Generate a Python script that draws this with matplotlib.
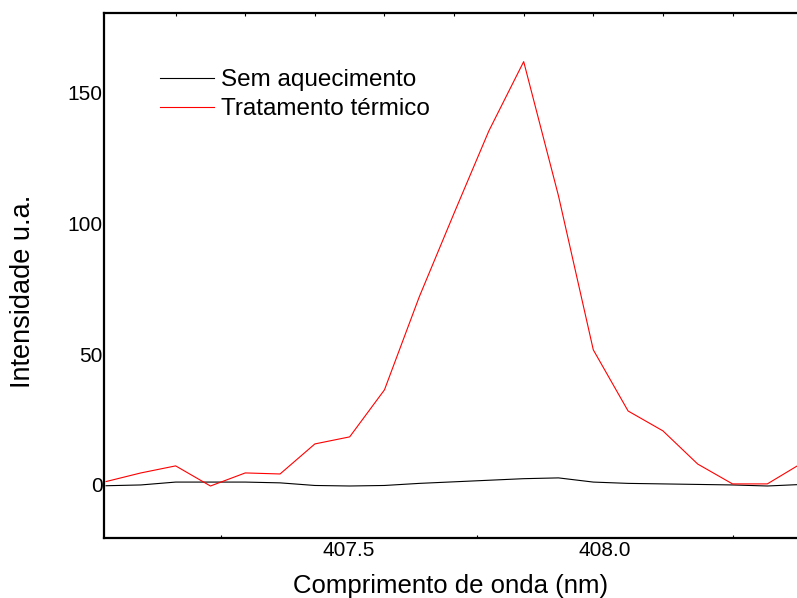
import matplotlib.pyplot as plt
from matplotlib.ticker import FixedLocator

# wavelength (nm) and intensity
wavelength = [407.025, 407.093, 407.161, 407.229, 407.297, 407.365, 407.433,
              407.501, 407.569, 407.637, 407.705, 407.773, 407.841, 407.909,
              407.977, 408.045, 408.113, 408.181, 408.249, 408.317, 408.385]
sem_aquecimento = [-0.3, 0.0, 1.1, 1.1, 1.1, 0.8, -0.2, -0.4, -0.2, 0.6, 1.2,
                   1.8, 2.4, 2.7, 1.1, 0.6, 0.4, 0.2, 0.0, -0.4, 0.2]
tratamento = [1.3, 4.6, 7.3, -0.4, 4.6, 4.2, 15.7, 18.4, 36.4, 72.0, 104.0,
              135.5, 162.0, 110.6, 51.7, 28.3, 20.7, 8.0, 0.4, 0.4, 8.4]

labels = ['Sem aquecimento', 'Tratamento térmico']
xticks = [407.5, 408.0]
yticks = [0, 50, 100, 150]

plt.rcParams['font.family'] = ['Liberation Sans', 'DejaVu Sans']

fig = plt.figure(figsize=(7.97, 5.98), dpi=100)
ax = fig.add_axes([104 / 797, 1 - 538 / 598, 1 - 104 / 797, (538 - 13) / 598])

ax.plot(wavelength, sem_aquecimento, color='black', lw=0.8, label=labels[0])
ax.plot(wavelength, tratamento, color='red', lw=0.8, label=labels[1])

ax.set_xlim(407.021, 408.375)
ax.set_ylim(-20.3, 180.6)

ax.spines['right'].set_visible(False)
for s in ['left', 'top', 'bottom']:
    ax.spines[s].set_linewidth(1.6)

ax.set_xticks(xticks)
ax.set_xticklabels(['407.5', '408.0'])
ax.set_yticks(yticks)
ax.tick_params(axis='both', length=0, labelsize=15)
ax.tick_params(axis='y', pad=1)
ax.tick_params(axis='x', pad=2)
ax.xaxis.set_minor_locator(FixedLocator([407.25, 407.75, 408.25]))
ax.tick_params(axis='x', which='minor', direction='in', length=2, width=0.8,
               top=False)

# small marks on the top spine
top = ax.secondary_xaxis('top')
top.set_xticks(wavelength[2::2])
top.tick_params(direction='in', length=2, width=0.8, labeltop=False)
top.spines['top'].set_visible(False)

ax.set_xlabel('Comprimento de onda (nm)', fontsize=18.5, labelpad=10)
ax.set_ylabel('Intensidade u.a.', fontsize=19.5, va='center')
ax.yaxis.set_label_coords(-0.117, 0.47)

ax.legend(loc='upper left', bbox_to_anchor=(0.081, 0.893), frameon=False,
          fontsize=17.5, handlelength=2.2, handletextpad=0.32, labelspacing=0.3,
          borderpad=0, borderaxespad=0)

fig.savefig('out.png', dpi=100)
